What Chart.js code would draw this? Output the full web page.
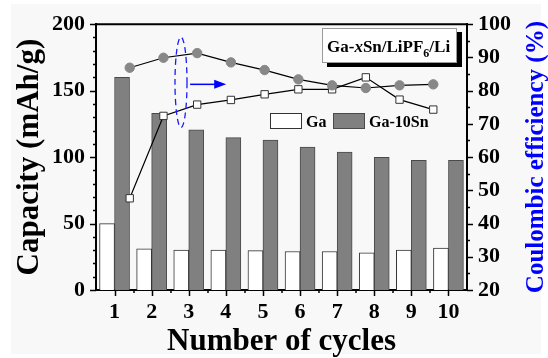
<!DOCTYPE html>
<html>
<head>
<meta charset="utf-8">
<script src="https://cdn.jsdelivr.net/npm/chart.js@4.4.1/dist/chart.umd.min.js"></script>
<style>
  html, body { margin: 0; padding: 0; background: #ffffff; }
  #wrap { width: 548px; height: 358px; position: relative; }
</style>
</head>
<body>
<div id="wrap"><canvas id="chart" width="548" height="358"></canvas></div>
<script>
// Cycle numbers and measured values
const cycles = ['1', '2', '3', '4', '5', '6', '7', '8', '9', '10'];
const capacityGa = [50, 31, 30, 30, 29.6, 29, 29, 28, 30, 31.5];
const capacityGaSn = [160, 133, 120.5, 114.6, 112.8, 107.5, 103.8, 99.8, 97.6, 97.6];
const efficiencyGa = [47.6, 72.4, 75.8, 77.2, 78.9, 80.4, 80.4, 84.0, 77.3, 74.3];
const efficiencyGaSn = [86.9, 89.9, 91.3, 88.5, 86.2, 83.4, 81.6, 80.8, 81.6, 81.9];
const capacityTicks = [0, 50, 100, 150, 200];
const efficiencyTicks = [20, 30, 40, 50, 60, 70, 80, 90, 100];

const SERIF = '"Liberation Serif", "Times New Roman", Times, serif';

// Line series sit on their own cycle axis (0..11) spanning the plot width
const toPoints = vals => vals.map((v, i) => ({ x: Number(cycles[i]), y: v }));

// Page background, frame top edge, outward tick marks, right-hand title
const frame = {
  id: 'frame',
  beforeDraw(chart) {
    const c = chart.ctx;
    c.save();
    c.fillStyle = '#ffffff';
    c.fillRect(0, 0, chart.width, chart.height);
    c.fillStyle = '#f8f8f8';
    c.fillRect(11, 4, 530, 350);
    c.restore();
  },
  afterDraw(chart) {
    const c = chart.ctx;
    const a = chart.chartArea;
    const y = chart.scales.y, y1 = chart.scales.y1, x = chart.scales.x;
    c.save();
    c.strokeStyle = '#000';
    c.lineWidth = 2;
    c.beginPath();
    c.moveTo(a.left - 1, a.top);
    c.lineTo(a.right + 1, a.top);
    c.stroke();
    c.lineWidth = 1.5;
    c.beginPath();
    for (let v = 0; v <= 200; v += 10) {
      const p = Math.round(y.getPixelForValue(v)) + 0.5;
      const len = v % 50 === 0 ? 6 : 3;
      c.moveTo(a.left, p); c.lineTo(a.left - len, p);
    }
    for (let v = 20; v <= 100; v += 5) {
      const p = Math.round(y1.getPixelForValue(v)) + 0.5;
      const len = v % 10 === 0 ? 6 : 3;
      c.moveTo(a.right, p); c.lineTo(a.right + len, p);
    }
    const step = x.getPixelForValue(1) - x.getPixelForValue(0);
    for (let i = 0; i < cycles.length; i++) {
      const p = Math.round(x.getPixelForValue(i)) + 0.5;
      c.moveTo(p, a.bottom); c.lineTo(p, a.bottom + 6);
      if (i < cycles.length - 1) {
        const m = Math.round(p + step / 2);
        c.moveTo(m, a.bottom); c.lineTo(m, a.bottom + 3);
      }
    }
    c.stroke();

    // right axis title, reading bottom to top
    c.fillStyle = '#0000ff';
    c.font = 'bold 25px ' + SERIF;
    c.textAlign = 'center';
    c.textBaseline = 'alphabetic';
    c.translate(543, (a.top + a.bottom) / 2);
    c.rotate(-Math.PI / 2);
    c.fillText('Coulombic efficiency (%)', 0, 0);
    c.restore();
  }
};

// Legend boxes, label box, dashed marker and arrow inside the plot
const notes = {
  id: 'notes',
  afterDatasetsDraw(chart) {
    const c = chart.ctx;
    const xl = chart.scales.xl, y1 = chart.scales.y1;
    const ds = chart.data.datasets;
    c.save();

    // legend
    c.font = 'bold 16px ' + SERIF;
    c.textBaseline = 'alphabetic';
    c.textAlign = 'left';
    const items = [
      { d: ds[2], x: 270 },
      { d: ds[3], x: 333 }
    ];
    items.forEach(it => {
      c.fillStyle = it.d.backgroundColor;
      c.fillRect(it.x, 113, 31, 15);
      c.lineWidth = 1;
      c.strokeStyle = it.d.borderColor;
      c.strokeRect(it.x + 0.5, 113.5, 31, 15);
      c.fillStyle = '#000';
      c.fillText(it.d.label, it.x + 36, 126.5);
    });

    // label box with drop shadow
    c.fillStyle = '#000';
    c.fillRect(327, 32, 135, 35);
    c.fillStyle = '#fefefe';
    c.fillRect(322, 28, 135, 35);
    c.strokeStyle = '#9a9a9a';
    c.lineWidth = 1;
    c.strokeRect(322.5, 28.5, 134, 34);
    c.fillStyle = '#000';
    let tx = 327;
    const base = 52;
    const parts = [
      ['Ga-', 'bold 17px ', 0],
      ['x', 'italic bold 17px ', 0],
      ['Sn/LiPF', 'bold 17px ', 0],
      ['6', 'bold 12px ', 5],
      ['/Li', 'bold 17px ', 0]
    ];
    parts.forEach(([t, f, dy]) => {
      c.font = f + SERIF;
      c.fillText(t, tx, base + dy);
      tx += c.measureText(t).width;
    });

    // dashed ellipse around the efficiency curves
    const cx = xl.getPixelForValue(2.52);
    const cy = y1.getPixelForValue(82.5);
    const ry = Math.abs(y1.getPixelForValue(96.1) - cy);
    c.strokeStyle = '#1a1aff';
    c.lineWidth = 1.3;
    c.setLineDash([6, 4]);
    c.beginPath();
    c.ellipse(cx, cy, 6, ry, 0, 0, Math.PI * 2);
    c.stroke();
    c.setLineDash([]);

    // arrow pointing toward the right axis
    const ax0 = xl.getPixelForValue(2.79);
    const ax1 = xl.getPixelForValue(3.86);
    const ay = y1.getPixelForValue(81.9);
    c.strokeStyle = '#0000ff';
    c.fillStyle = '#0000ff';
    c.lineWidth = 1.5;
    c.beginPath();
    c.moveTo(ax0, ay);
    c.lineTo(ax1 - 10, ay);
    c.stroke();
    c.beginPath();
    c.moveTo(ax1, ay);
    c.lineTo(ax1 - 12, ay - 4.5);
    c.lineTo(ax1 - 12, ay + 4.5);
    c.closePath();
    c.fill();
    c.restore();
  }
};

const tickFont = { family: SERIF, size: 22, weight: 'bold' };

new Chart(document.getElementById('chart'), {
  data: {
    labels: cycles,
    datasets: [
      {
        type: 'line', label: 'Ga-10Sn efficiency', data: toPoints(efficiencyGaSn),
        xAxisID: 'xl', yAxisID: 'y1', order: 0,
        borderColor: '#000', borderWidth: 1.2,
        pointStyle: 'circle', pointRadius: 4.7,
        pointBackgroundColor: '#888888', pointBorderColor: '#888888', pointBorderWidth: 1
      },
      {
        type: 'line', label: 'Ga efficiency', data: toPoints(efficiencyGa),
        xAxisID: 'xl', yAxisID: 'y1', order: 0,
        borderColor: '#000', borderWidth: 1.2,
        pointStyle: 'rect', pointRadius: 5.2,
        pointBackgroundColor: '#ffffff', pointBorderColor: '#333333', pointBorderWidth: 1
      },
      {
        type: 'bar', label: 'Ga', data: capacityGa,
        xAxisID: 'x', yAxisID: 'y', order: 1,
        backgroundColor: '#ffffff', borderColor: '#333333', borderWidth: 1,
        barThickness: 15
      },
      {
        type: 'bar', label: 'Ga-10Sn', data: capacityGaSn,
        xAxisID: 'x', yAxisID: 'y', order: 1,
        backgroundColor: '#808080', borderColor: '#4a4a4a', borderWidth: 1,
        barThickness: 15
      }
    ]
  },
  options: {
    responsive: false,
    animation: false,
    events: [],
    layout: { padding: { top: 20, left: 0, right: 0, bottom: 0 } },
    plugins: { legend: { display: false }, tooltip: { enabled: false } },
    scales: {
      x: {
        type: 'category', position: 'bottom', offset: true,
        grid: { display: false, drawTicks: false },
        border: { display: true, color: '#000', width: 2 },
        ticks: { color: '#000', font: tickFont, padding: 9, maxRotation: 0 },
        title: {
          display: true, text: 'Number of cycles', color: '#000',
          font: { family: SERIF, size: 31, weight: 'bold', lineHeight: 1 },
          padding: { top: 0, bottom: 1 }
        },
        afterFit(s) { s.height = 68; }
      },
      xl: { type: 'linear', display: false, offset: false, min: 0, max: 11 },
      y: {
        type: 'linear', position: 'left', min: 0, max: 200,
        afterBuildTicks(s) { s.ticks = capacityTicks.map(v => ({ value: v })); },
        grid: { display: false, drawTicks: false },
        border: { display: true, color: '#000', width: 2 },
        ticks: { color: '#000', font: tickFont, padding: 11 },
        title: {
          display: true, text: 'Capacity (mAh/g)', color: '#000',
          font: { family: SERIF, size: 31, weight: 'bold', lineHeight: 1 },
          padding: { top: 14, bottom: 0 }
        },
        afterFit(s) { s.width = 96; }
      },
      y1: {
        type: 'linear', position: 'right', min: 20, max: 100,
        afterBuildTicks(s) { s.ticks = efficiencyTicks.map(v => ({ value: v })); },
        grid: { display: false, drawTicks: false },
        border: { display: true, color: '#000', width: 2 },
        ticks: { color: '#000', font: tickFont, padding: 11 },
        afterFit(s) { s.width = 81; }
      }
    }
  },
  plugins: [frame, notes]
});
</script>
</body>
</html>
